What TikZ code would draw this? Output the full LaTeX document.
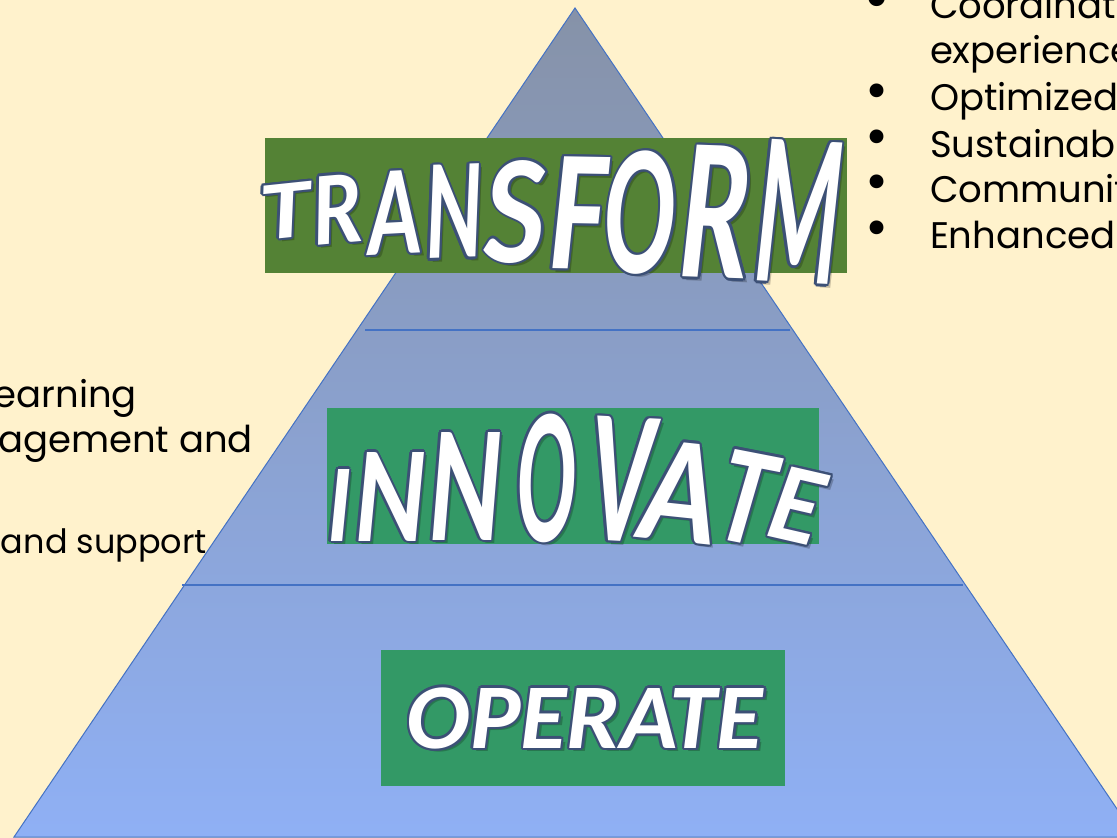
\documentclass[tikz,border=0pt]{standalone}
\usepackage{fontspec}
\usepackage{graphicx}
\newfontfamily\bodyfont{Poppins}
\newfontfamily\wafont{Carlito}
\definecolor{bg}{RGB}{255,242,204}
\definecolor{tfgreen}{RGB}{84,130,53}
\definecolor{ingreen}{RGB}{51,153,102}
\definecolor{outl}{RGB}{60,80,118}
\definecolor{edge}{RGB}{68,114,196}
\definecolor{tritop}{RGB}{134,146,168}
\definecolor{trimid}{RGB}{128,152,200}
\definecolor{tribot}{RGB}{143,176,245}
\tikzset{
  wa/.style={anchor=base,inner sep=0pt,outer sep=0pt},
  greenbox/.style={rectangle,inner sep=0pt,outer sep=0pt,draw=none},
  bodytext/.style={inner sep=0pt,outer sep=0pt,text=black,font=\bodyfont\fontsize{37}{42}\selectfont},
  bulletmark/.style={inner sep=0pt,outer sep=0pt,text=black,anchor=center,font=\bodyfont\fontsize{56}{56}\selectfont},
  divider/.style={draw=edge,line width=1.5pt}
}
\newcommand\capbox[1]{{\wafont\bfseries\itshape\smash{#1}\rule{0pt}{\fontdimen8\font}}}
% #1 x, #2 baseline y, #3 width, #4 height, #5 rotation, #6 text
\newcommand\waletter[6]{%
  \node[wa,text=black,opacity=0.22,rotate=#5,shift={(3.5,3.5)}] at (#1,#2) {\resizebox{#3pt}{#4pt}{\capbox{#6}}};
  \foreach \a in {0,30,...,330}{\node[wa,text=outl,rotate=#5,shift={(\a:2.3)}] at (#1,#2) {\resizebox{#3pt}{#4pt}{\capbox{#6}}};}
  \node[wa,text=white,rotate=#5] at (#1,#2) {\resizebox{#3pt}{#4pt}{\capbox{#6}}};}
\begin{document}
\begin{tikzpicture}[x=1pt,y=-1pt]
\fill[bg] (0,0) rectangle (1117,838);
\useasboundingbox (0,0) rectangle (1117,838);
% pyramid
\coordinate (apex) at (575,8);
\coordinate (bl) at (14,837);
\coordinate (br) at (1136,837);
\shade[top color=tritop,middle color=trimid,bottom color=tribot] (apex) -- (bl) -- (br) -- cycle;
\draw[edge,line width=1pt] (apex) -- (bl) -- (br) -- cycle;
\coordinate (l1a) at (365,330); \coordinate (l1b) at (790,330);
\coordinate (l2a) at (182,585); \coordinate (l2b) at (963,585);
\draw[divider] (l1a) -- (l1b);
\draw[divider] (l2a) -- (l2b);
% boxes
\node[greenbox,fill=tfgreen,minimum width=582pt,minimum height=135pt] (tfbox) at (556,205.5) {};
\node[greenbox,fill=ingreen,minimum width=492pt,minimum height=136pt] (inbox) at (573,476) {};
\node[greenbox,fill=ingreen,minimum width=404pt,minimum height=136pt] (opbox) at (583,718) {};
% TRANSFORM
\waletter{288}{238}{50}{54}{6}{T}
\waletter{340}{243}{50}{68}{5}{R}
\waletter{396}{254}{53}{83}{3}{A}
\waletter{455}{258}{56}{93}{2}{N}
\waletter{515}{262}{60}{101}{0}{S}
\waletter{577}{269}{56}{112}{-1}{F}
\waletter{639}{273}{70}{121}{-1}{O}
\waletter{714}{278}{70}{132}{-2}{R}
\waletter{795}{283}{84}{142}{-3}{M}
% INNOVATE
\waletter{339}{541}{24}{72}{0}{I}
\waletter{390}{541}{70}{89}{0}{N}
\waletter{465}{540}{72}{108}{0}{N}
\waletter{546}{541}{58}{126}{0}{O}
\waletter{617}{541}{64}{124}{-3}{V}
\waletter{675}{541}{76}{99}{-6}{A}
\waletter{737}{542}{52}{91}{-11}{T}
\waletter{789}{541}{50}{73}{-13}{E}
% OPERATE
\waletter{585}{748}{356}{60}{0}{OPERATE}
% left text
\node[bodytext,anchor=base east] (l1) at (137,407) {earning};
\node[bodytext,anchor=base east] (l2) at (253,452) {nagement and};
\node[bodytext,anchor=base west,font=\bodyfont\fontsize{33.5}{40}\selectfont] (l3) at (1,553) {and support};
% right text
\foreach \y/\t [count=\i] in {18/Coordinati,63/experience,110/Optimized,157/Sustainable,202/Communit,248/Enhanced}{
  \node[bodytext,anchor=base west] (r\i) at (930,\y) {\t};
}
\foreach \y [count=\i] in {97,143,188,234}{
  \node[bulletmark] (b\i) at (877,\y) {\textbullet};
}
\node[bulletmark,font=\bodyfont\fontsize{66}{66}\selectfont] (b0) at (877,5) {\textbullet};
\end{tikzpicture}
\end{document}
